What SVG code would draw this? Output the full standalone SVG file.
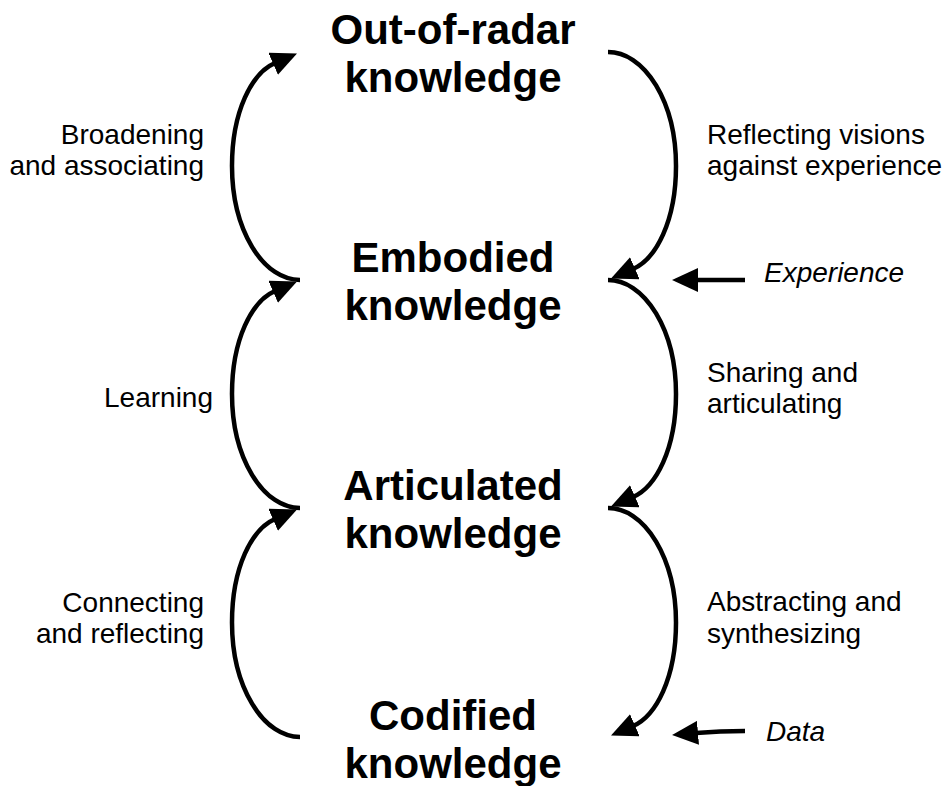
<svg xmlns="http://www.w3.org/2000/svg" width="947" height="786" viewBox="0 0 947 786">
<style>
.node{font-family:"Liberation Sans",Arial,sans-serif;font-weight:bold;font-size:42px;fill:#000;text-anchor:middle}
.lbl{font-family:"Liberation Sans",Arial,sans-serif;font-size:28px;fill:#000}
.l{text-anchor:end}
.it{font-style:italic}
.c{fill:none;stroke:#000;stroke-width:4.5;marker-end:url(#ah)}
</style>
<defs>
<marker id="ah" markerUnits="userSpaceOnUse" viewBox="0 0 26 24" refX="2" refY="12" markerWidth="26" markerHeight="24" orient="auto">
<path d="M0,0 L26,12 L0,24 z" fill="#000"/>
</marker>
</defs>
<rect width="947" height="786" fill="#fff"/>
<g id="connectors">
<path class="c" d="M300,280 A68,114 0 0 1 232,166 C232,111 252,73 275,63"/>
<path class="c" d="M300,508 A68,114 0 0 1 232,394 C232,339 252,301 275,291"/>
<path class="c" d="M300,737 A68,114.5 0 0 1 232,622.5 C232,567 252,529 275,519"/>
<path class="c" d="M608,52 A68,114 0 0 1 676,166 C676,221 656,259 633,269"/>
<path class="c" d="M608,280 A68,114 0 0 1 676,394 C676,449 656,487 633,497"/>
<path class="c" d="M608,508 A68,114.5 0 0 1 676,622.5 C676,678 656,716 633,726"/>
<path class="c" d="M745,280 L696,280"/>
<path class="c" d="M745,731 Q720,731 696,733"/>
</g>
<g id="out-of-radar"><text class="node" x="453" y="44">Out-of-radar</text><text class="node" x="453" y="92">knowledge</text></g>
<g id="embodied"><text class="node" x="453" y="272">Embodied</text><text class="node" x="453" y="320">knowledge</text></g>
<g id="articulated"><text class="node" x="453" y="500">Articulated</text><text class="node" x="453" y="548">knowledge</text></g>
<g id="codified"><text class="node" x="453" y="730">Codified</text><text class="node" x="453" y="778">knowledge</text></g>
<g id="labels">
<text class="lbl l" x="204" y="144">Broadening</text>
<text class="lbl l" x="204" y="175">and associating</text>
<text class="lbl l" x="213" y="407">Learning</text>
<text class="lbl l" x="204" y="612">Connecting</text>
<text class="lbl l" x="204" y="643">and reflecting</text>
<text class="lbl" x="707" y="144">Reflecting visions</text>
<text class="lbl" x="707" y="175">against experience</text>
<text class="lbl" x="707" y="382">Sharing and</text>
<text class="lbl" x="707" y="413">articulating</text>
<text class="lbl" x="707" y="611">Abstracting and</text>
<text class="lbl" x="707" y="643">synthesizing</text>
<text class="lbl it" x="764" y="282">Experience</text>
<text class="lbl it" x="766" y="741">Data</text>
</g>
</svg>
